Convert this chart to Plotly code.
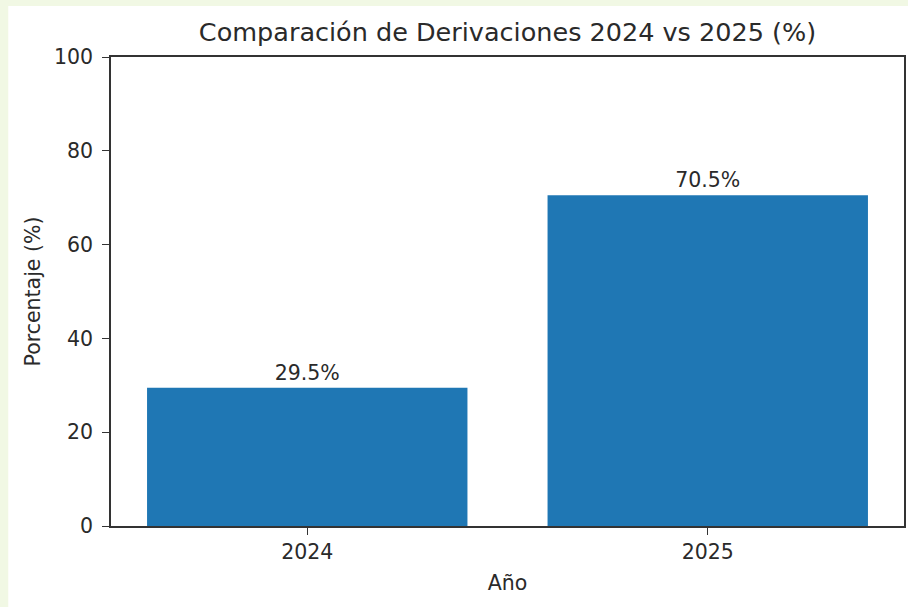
import plotly.graph_objects as go

years = ["2024", "2025"]
percentages = [29.5, 70.5]
x_pos = [0, 1]
y_ticks = [0, 20, 40, 60, 80, 100]

W, H = 908, 607
L, R, T, B = 111, 2, 57, 81
pw, ph = W - L - R, H - T - B

def px_x(p):
    return (p - L) / pw

def px_y(p):
    return (H - B - p) / ph

font = "DejaVu Sans"
txt = "#2a2a2a"
fs = 20.5

fig = go.Figure()
fig.add_trace(go.Bar(
    x=x_pos, y=percentages, width=0.8,
    marker=dict(color="#1f77b4", line=dict(width=0)),
    text=[f"{v:.1f}%" for v in percentages],
    textposition="outside", cliponaxis=False,
    textfont=dict(family=font, size=fs, color=txt),
))

fig.update_layout(
    width=W, height=H,
    margin=dict(l=L, r=R, t=T, b=B),
    paper_bgcolor="#f1f8e4",
    plot_bgcolor="white",
    showlegend=False,
    font=dict(family=font, size=fs, color=txt),
    title=dict(text="Comparación de Derivaciones 2024 vs 2025 (%)",
               x=0.5, xref="paper", xanchor="center",
               y=1 - 32 / H, yanchor="middle",
               font=dict(family=font, size=25.5, color=txt)),
    xaxis=dict(range=[-0.49, 1.49], tickvals=x_pos, ticktext=years,
               showgrid=False, zeroline=False,
               showline=True, linecolor="#333", linewidth=1.5, mirror=True,
               ticks="outside", ticklen=7, tickcolor="#333", tickwidth=1.3,
               tickfont=dict(size=fs),
               title=dict(text="Año", font=dict(size=fs), standoff=12)),
    yaxis=dict(range=[0, 100], tickvals=y_ticks,
               showgrid=False, zeroline=False,
               showline=True, linecolor="#333", linewidth=1.5, mirror=True,
               ticks="outside", ticklen=7, tickcolor="#333", tickwidth=1.3,
               ticklabelstandoff=5,
               tickfont=dict(size=fs),
               title=dict(text="Porcentaje (%)", font=dict(size=fs), standoff=8)),
    shapes=[dict(type="rect", xref="paper", yref="paper", layer="below",
                 x0=px_x(8), x1=px_x(W + 5), y0=px_y(H + 5), y1=px_y(6),
                 fillcolor="white", line=dict(width=0))],
)

fig.write_html("out.html", config={"displayModeBar": False},
               post_script="document.body.style.margin='0';")
